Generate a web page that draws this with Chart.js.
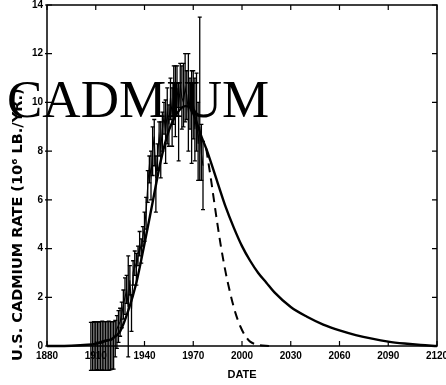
<!DOCTYPE html>
<html>
<head>
<meta charset="utf-8">
<script src="https://cdn.jsdelivr.net/npm/chart.js@4/dist/chart.umd.min.js"></script>
<style>
  html, body { margin: 0; padding: 0; background: #fff; }
  canvas { display: block; }
</style>
</head>
<body>
<canvas id="cadmium_chart" width="446" height="385"></canvas>
<script>
"use strict";

// Annual U.S. cadmium production, 10^6 lb/yr, with error bar half-widths
var years = [1907, 1908, 1909, 1910, 1911, 1912, 1913, 1914, 1915, 1916, 1917, 1918, 1919, 1920, 1921,
    1922, 1923, 1924, 1925, 1926, 1927, 1928, 1929, 1930, 1931, 1932,
    1933, 1934, 1935, 1936, 1937, 1938, 1939, 1940, 1941,
    1942, 1943, 1944, 1945, 1946, 1947, 1948, 1949, 1950, 1951, 1952, 1953, 1954, 1955, 1956, 1957, 1958, 1959,
    1960, 1961, 1962, 1963, 1964, 1965, 1966, 1967, 1968, 1969, 1970, 1971, 1972, 1973, 1974, 1975, 1976];
var rate = [0.02, 0.05, 0.05, 0.08, 0.08, 0.10, 0.12, 0.12, 0.15, 0.18, 0.20, 0.22, 0.22, 0.25, 0.30,
    0.45, 0.7, 0.85, 1.0, 1.3, 1.7, 2.0, 2.3, 1.6, 2.7, 1.5,
    3.0, 3.4, 3.2, 3.7, 4.2, 3.9, 4.5, 4.9, 5.5,
    6.6, 7.4, 7.0, 8.0, 8.6, 6.9, 7.8, 8.6, 8.1, 8.9, 9.4, 8.8, 9.6, 9.1, 10.2, 9.5, 10.3, 9.9,
    10.6, 9.8, 10.7, 10.2, 10.0, 10.6, 10.3, 9.6, 10.1, 9.5, 10.0, 8.9, 9.6, 8.3, 9.0, 7.9, 7.4];
var errUp = [0.95, 0.92, 0.95, 0.9, 0.92, 0.88, 0.88, 0.9, 0.85, 0.82, 0.8, 0.8, 0.78, 0.75, 0.7,
    0.6, 0.55, 0.6, 0.55, 0.5, 0.6, 0.8, 0.6, 2.1, 0.6, 0.6,
    0.5, 0.5, 0.6, 0.4, 0.5, 0.5, 0.4, 0.6, 0.6,
    0.6, 0.4, 1.0, 1.0, 0.7, 0.9, 0.5, 0.6, 1.1, 0.7, 0.6, 1.3, 1.0, 0.8, 0.8, 1.1, 1.2, 1.6,
    0.9, 1.0, 0.9, 1.3, 1.6, 1.4, 1.0, 2.4, 0.9, 1.8, 1.3, 2.1, 1.6, 1.7, 4.5, 1.2, 1.0];
var errDown = [1.02, 1.05, 1.05, 1.08, 1.05, 1.1, 1.12, 1.1, 1.15, 1.18, 1.2, 1.22, 1.2, 1.2, 1.25,
    0.9, 0.8, 0.7, 0.6, 0.55, 0.6, 0.7, 0.55, 2.05, 0.6, 0.9,
    0.5, 0.5, 0.7, 0.4, 0.5, 0.5, 0.4, 0.6, 0.7,
    0.7, 0.7, 1.0, 1.0, 1.2, 1.4, 0.6, 0.8, 1.2, 0.9, 0.7, 1.3, 1.3, 0.9, 0.9, 1.3, 1.2, 1.3,
    0.8, 2.2, 0.9, 1.3, 1.0, 1.4, 1.0, 1.6, 1.2, 2.0, 1.5, 1.3, 1.6, 1.5, 2.2, 1.1, 1.8];

// Fitted production curve (solid) and the faster-decline alternative (dashed)
var fitYears = [1880, 1895, 1905, 1910, 1915, 1920, 1925, 1930, 1935, 1940, 1945, 1950, 1955, 1960, 1965, 1968,
    1972, 1975, 1978, 1985, 1990, 1995, 2000, 2005, 2010, 2015, 2020, 2030, 2040, 2050, 2060, 2070, 2080,
    2090, 2100, 2110, 2120];
var fitRate = [0, 0.01, 0.05, 0.1, 0.2, 0.3, 0.6, 1.45, 2.6, 4.2, 5.9, 7.6, 8.85, 9.55, 9.85, 9.8,
    9.2, 8.6, 8.1, 6.7, 5.7, 4.85, 4.1, 3.5, 3.0, 2.6, 2.2, 1.6, 1.2, 0.88, 0.64, 0.45, 0.3,
    0.18, 0.1, 0.04, 0];
var dashYears = [1978, 1981, 1984, 1987, 1990, 1993, 1996, 1999, 2002, 2005, 2010, 2017];
var dashRate = [8.1, 6.8, 5.4, 4.1, 3.0, 2.1, 1.35, 0.8, 0.42, 0.18, 0.05, 0];

var xTicks = [1880, 1910, 1940, 1970, 2000, 2030, 2060, 2090, 2120];
var yTicks = [0, 2, 4, 6, 8, 10, 12, 14];
var yTitle = 'U.S. CADMIUM RATE (10\u2076 LB./YR.)';

function toPoints(xs, ys) {
    return xs.map(function (v, i) { return { x: v, y: ys[i] }; });
}

// vertical error bars with small caps
var errorBars = {
    id: 'errorBars',
    afterDatasetsDraw: function (chart) {
        var ctx = chart.ctx, x = chart.scales.x, y = chart.scales.y;
        ctx.save();
        ctx.strokeStyle = '#000';
        ctx.lineWidth = 1.3;
        years.forEach(function (yr, i) {
            var px = x.getPixelForValue(yr);
            var top = y.getPixelForValue(rate[i] + errUp[i]);
            var bot = y.getPixelForValue(rate[i] - errDown[i]);
            ctx.beginPath();
            ctx.moveTo(px, top); ctx.lineTo(px, bot);
            ctx.moveTo(px - 2, top); ctx.lineTo(px + 2, top);
            ctx.moveTo(px - 2, bot); ctx.lineTo(px + 2, bot);
            ctx.stroke();
        });
        ctx.restore();
    }
};

// boxed frame with inward ticks on all sides, the axis title and the big title
var frameTicks = {
    id: 'frameTicks',
    afterDraw: function (chart) {
        var ctx = chart.ctx, a = chart.chartArea, x = chart.scales.x, y = chart.scales.y;
        ctx.save();
        ctx.strokeStyle = '#000';
        ctx.lineWidth = 1.5;
        ctx.strokeRect(a.left, a.top, a.right - a.left, a.bottom - a.top);
        ctx.beginPath();
        xTicks.forEach(function (v) {
            var px = x.getPixelForValue(v);
            ctx.moveTo(px, a.bottom); ctx.lineTo(px, a.bottom - 5);
            ctx.moveTo(px, a.top); ctx.lineTo(px, a.top + 5);
        });
        yTicks.forEach(function (v) {
            var py = y.getPixelForValue(v);
            ctx.moveTo(a.left - 2, py); ctx.lineTo(a.left + 5, py);
            ctx.moveTo(a.right, py); ctx.lineTo(a.right - 5, py);
        });
        ctx.lineWidth = 1.2;
        ctx.stroke();

        ctx.fillStyle = '#000';
        // rotated y axis title, running up from just below the axis
        ctx.save();
        ctx.translate(18, a.bottom + 15);
        ctx.rotate(-Math.PI / 2);
        ctx.font = 'bold 14.5px "DejaVu Sans"';
        ctx.textAlign = 'left';
        ctx.textBaseline = 'middle';
        ctx.fillText(yTitle, 0, 0);
        ctx.restore();

        ctx.font = '53px "Liberation Serif"';
        ctx.textBaseline = 'alphabetic';
        ctx.fillText('CADMIUM', 7, 117);
        ctx.restore();
    }
};

var cadmiumChart = new Chart(document.getElementById('cadmium_chart'), {
    type: 'scatter',
    data: {
        datasets: [
            {
                label: 'U.S. production',
                data: toPoints(years, rate),
                showLine: true,
                borderColor: '#000',
                borderWidth: 1.1,
                pointRadius: 0,
                clip: false
            },
            {
                label: 'Fit',
                data: toPoints(fitYears, fitRate),
                showLine: true,
                borderColor: '#000',
                borderWidth: 2.4,
                pointRadius: 0,
                cubicInterpolationMode: 'monotone',
                clip: false
            },
            {
                label: 'Alternative decline',
                data: toPoints(dashYears, dashRate),
                showLine: true,
                borderColor: '#000',
                borderWidth: 2,
                borderDash: [9, 6],
                pointRadius: 0,
                cubicInterpolationMode: 'monotone',
                clip: false
            }
        ]
    },
    options: {
        responsive: false,
        animation: false,
        events: [],
        layout: { padding: { top: 5, right: 9, left: 0, bottom: 0 } },
        plugins: { legend: { display: false }, tooltip: { enabled: false } },
        scales: {
            x: {
                type: 'linear',
                min: 1880,
                max: 2120,
                afterBuildTicks: function (s) { s.ticks = xTicks.map(function (v) { return { value: v }; }); },
                afterFit: function (s) { s.height = 39; s.paddingLeft = 0; s.paddingRight = 0; },
                grid: { display: false, drawTicks: false },
                border: { display: false },
                ticks: {
                    color: '#000',
                    padding: 4,
                    maxRotation: 0,
                    callback: function (v) { return String(v); },
                    font: { family: 'Liberation Sans', size: 10, weight: 'bold' }
                },
                title: {
                    display: true,
                    text: 'DATE',
                    color: '#000',
                    padding: { top: 0, bottom: 3 },
                    font: { family: 'Liberation Sans', size: 11, weight: 'bold' }
                }
            },
            y: {
                min: 0,
                max: 14,
                afterBuildTicks: function (s) { s.ticks = yTicks.map(function (v) { return { value: v }; }); },
                afterFit: function (s) { s.width = 47; s.paddingTop = 0; s.paddingBottom = 0; },
                grid: { display: false, drawTicks: false },
                border: { display: false },
                ticks: {
                    color: '#000',
                    padding: 4,
                    callback: function (v) { return String(v); },
                    font: { family: 'Liberation Sans', size: 10, weight: 'bold' }
                }
            }
        }
    },
    plugins: [errorBars, frameTicks]
});
</script>
</body>
</html>
